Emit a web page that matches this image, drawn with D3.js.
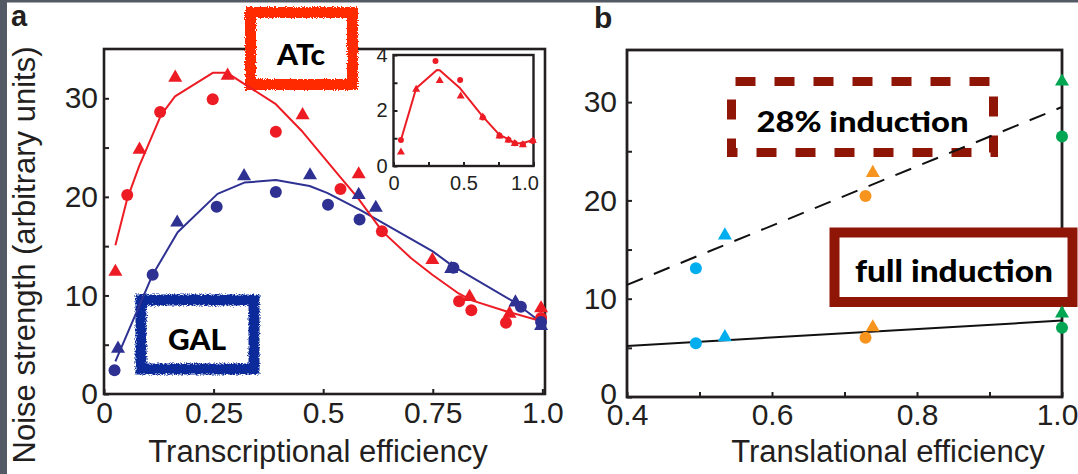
<!DOCTYPE html>
<html>
<head>
<meta charset="utf-8">
<script src="https://cdn.jsdelivr.net/npm/d3@7/dist/d3.min.js"></script>
<style>
  html, body { margin: 0; padding: 0; background: #fff; }
  svg { display: block; }
  text { font-family: "Liberation Sans", Arial, Helvetica, sans-serif; fill: #231f20; }
  .comic { font-family: "Comic Sans MS", Lato, "DejaVu Sans", sans-serif; font-weight: 900; fill: #000; }
</style>
</head>
<body>
<svg id="chart" width="1078" height="474"></svg>
<script>
// ---------------- DATA ----------------
// Panel a (main): Transcriptional efficiency vs noise strength
const atcTriX = [0.026, 0.081, 0.1625, 0.282, 0.453, 0.581, 0.749, 0.834, 0.925, 0.997];
const atcTriY = [12.6, 25.0, 32.3, 32.5, 28.5, 22.5, 13.8, 10.05, 8.36, 8.9];
const atcCirX = [0.053, 0.128, 0.248, 0.392, 0.5395, 0.634, 0.81, 0.838, 0.917, 0.997];
const atcCirY = [20.2, 28.6, 29.9, 26.6, 20.8, 16.5, 9.4, 8.5, 7.24, 7.7];
const atcFitX = [0.026, 0.053, 0.080, 0.130, 0.162, 0.249, 0.280, 0.392, 0.453, 0.539, 0.579, 0.635, 0.700, 0.749, 0.809, 0.839, 0.917, 0.996];
const atcFitY = [15.1, 19.8, 23.1, 28.3, 30.2, 32.6, 32.6, 29.4, 26.6, 22.0, 19.9, 16.5, 13.8, 12.1, 10.2, 9.5, 8.4, 7.4];

const galTriX = [0.032, 0.167, 0.3195, 0.47, 0.581, 0.62, 0.792, 0.9386, 0.997];
const galTriY = [4.8, 17.6, 22.3, 22.4, 20.4, 19.1, 12.9, 9.5, 7.1];
const galCirX = [0.024, 0.111, 0.257, 0.392, 0.511, 0.583, 0.797, 0.951, 0.997];
const galCirY = [2.4, 12.1, 19.0, 20.5, 19.2, 17.7, 12.8, 8.86, 7.3];
const galFitX = [0.026, 0.111, 0.168, 0.259, 0.320, 0.392, 0.469, 0.509, 0.583, 0.749, 0.795, 0.937, 0.996];
const galFitY = [3.3, 12.1, 16.4, 20.3, 21.45, 21.7, 21.1, 20.4, 18.7, 14.5, 13.0, 9.3, 7.3];

const aYTicks = [0, 5, 10, 15, 20, 25, 30];
const aYLabels = ["0", "", "10", "", "20", "", "30"];
const aXTicks = [0, 0.25, 0.5, 0.75, 1.0];
const aXLabels = ["0", "0.25", "0.5", "0.75", "1.0"];

// Panel a inset
const insFitX = [0.053, 0.162, 0.31, 0.33, 0.476, 0.638, 0.757, 0.821, 0.866, 0.924, 0.995];
const insFitY = [0.94, 2.8, 3.46, 3.45, 2.8, 1.78, 1.12, 0.97, 0.82, 0.82, 0.94];
const insTriX = [0.053, 0.162, 0.33, 0.48, 0.638, 0.757, 0.821, 0.866, 0.924, 0.995];
const insTriY = [0.54, 2.8, 3.12, 2.56, 1.8, 1.12, 0.97, 0.85, 0.8, 0.95];
const insCirX = [0.053, 0.30, 0.476, 0.638, 0.757, 0.821, 0.866, 0.924, 0.995];
const insCirY = [0.94, 3.78, 3.1, 1.75, 1.1, 0.95, 0.82, 0.78, 0.9];
const insYTicks = [0, 1, 2, 3, 4];
const insYLabels = ["0", "", "2", "", "4"];
const insXTicks = [0, 0.25, 0.5, 0.75, 1.0];
const insXLabels = ["0", "", "0.5", "", "1.0"];

// Panel b: Translational efficiency
const bGroups = ["cyan", "orange", "green"];
const bCirX = [0.495, 0.729, 1.0];
const bTriX = [0.535, 0.739, 1.0];
const b28CirY = [13.1, 20.45, 26.5];
const b28TriY = [16.65, 23.0, 32.3];
const bFullCirY = [5.46, 6.03, 7.05];
const bFullTriY = [6.3, 7.3, 8.7];
const b28FitX = [0.4, 1.0];
const b28FitY = [11.4, 29.5];
const bFullFitX = [0.4, 1.0];
const bFullFitY = [5.19, 7.77];
const bYTicks = [0, 5, 10, 15, 20, 25, 30];
const bYLabels = ["0", "", "10", "", "20", "", "30"];
const bXTicks = [0.4, 0.5, 0.6, 0.7, 0.8, 0.9, 1.0];
const bXLabels = ["0.4", "", "0.6", "", "0.8", "", "1.0"];

// ---------------- STYLE ----------------
const RED = "#ed1c24", BLUE = "#2e3192";
const groupColor = { cyan: "#00aeef", orange: "#f7941d", green: "#00a651" };
const DARKRED = "#8f1606";
const INK = "#231f20";

const svg = d3.select("#chart");

// filter for hand-drawn boxes
const defs = svg.append("defs");
const f = defs.append("filter").attr("id", "rough").attr("x", "-10%").attr("y", "-10%").attr("width", "120%").attr("height", "120%");
f.append("feTurbulence").attr("type", "fractalNoise").attr("baseFrequency", 0.9).attr("numOctaves", 2).attr("seed", 3).attr("result", "n");
f.append("feDisplacementMap").attr("in", "SourceGraphic").attr("in2", "n").attr("scale", 5)
  .attr("xChannelSelector", "R").attr("yChannelSelector", "G");

// slide border
svg.append("rect").attr("x", 0).attr("y", 0).attr("width", 1078).attr("height", 474).attr("fill", "#fff");
svg.append("rect").attr("x", 0).attr("y", 0).attr("width", 7).attr("height", 474).attr("fill", "#535a65");
svg.append("rect").attr("x", 0).attr("y", 0).attr("width", 1078).attr("height", 2.5).attr("fill", "#535a65");

function triSize(w) { const y = w / (2 * Math.sqrt(3)); return y * y * Math.sqrt(3) * 3; }
function triOffset(w) { return w / (2 * Math.sqrt(3)) / 2; }

function styleAxis(g, labels, fontSize) {
  g.select(".domain").remove();
  g.selectAll(".tick line").attr("stroke", INK).attr("stroke-width", 2);
  g.selectAll(".tick text").attr("fill", INK).style("font-size", fontSize + "px")
    .style("font-family", '"Liberation Sans", Arial, sans-serif');
}

function drawMarkers(g, xs, ys, xS, yS, shape, color, w) {
  const pts = xs.map((x, i) => [x, ys[i]]);
  if (shape === "circle") {
    g.selectAll(null).data(pts).enter().append("circle")
      .attr("cx", d => xS(d[0])).attr("cy", d => yS(d[1])).attr("r", w / 2).attr("fill", color);
  } else {
    const sym = d3.symbol().type(d3.symbolTriangle).size(triSize(w));
    const off = triOffset(w);
    g.selectAll(null).data(pts).enter().append("path")
      .attr("d", sym).attr("fill", color)
      .attr("transform", d => `translate(${xS(d[0])},${yS(d[1]) + off})`);
  }
}
function drawLine(g, xs, ys, xS, yS, color, width, dash) {
  const line = d3.line().x(d => xS(d[0])).y(d => yS(d[1]));
  g.append("path").datum(xs.map((x, i) => [x, ys[i]])).attr("d", line)
    .attr("fill", "none").attr("stroke", color).attr("stroke-width", width)
    .attr("stroke-linejoin", "round").attr("stroke-dasharray", dash || null);
}

// ================= PANEL A =================
const xA = d3.scaleLinear().domain([0, 1.006]).range([104, 545]);
const yA = d3.scaleLinear().domain([0, 35]).range([394, 49]);
const gA = svg.append("g");

gA.append("g").attr("transform", `translate(${xA(0)},0)`)
  .call(d3.axisLeft(yA).tickValues(aYTicks).tickFormat((d, i) => aYLabels[i]).tickSizeInner(-5).tickSizeOuter(0).tickPadding(6))
  .call(g => styleAxis(g, aYLabels, 30));
gA.append("g").attr("transform", `translate(0,${yA(0)})`)
  .call(d3.axisBottom(xA).tickValues(aXTicks).tickFormat((d, i) => aXLabels[i]).tickSizeInner(-5).tickSizeOuter(0).tickPadding(8))
  .call(g => styleAxis(g, aXLabels, 30));
gA.append("rect").attr("x", xA(0)).attr("y", yA(35)).attr("width", xA(1.006) - xA(0)).attr("height", yA(0) - yA(35))
  .attr("fill", "none").attr("stroke", INK).attr("stroke-width", 2.6);

// boxes ATc and GAL
gA.append("rect").attr("x", 250.5).attr("y", 12.5).attr("width", 102).attr("height", 72)
  .attr("fill", "#fff").attr("stroke", "#ff2a00").attr("stroke-width", 11).attr("filter", "url(#rough)");
gA.append("text").attr("class", "comic").attr("x", 301).attr("y", 65).attr("text-anchor", "middle")
  .style("font-size", "28px").attr("textLength", 48).attr("lengthAdjust", "spacingAndGlyphs").text("ATc");
gA.append("rect").attr("x", 141).attr("y", 300).attr("width", 113).attr("height", 69)
  .attr("fill", "#fff").attr("stroke", "#0c2a9a").attr("stroke-width", 11).attr("filter", "url(#rough)");
gA.append("text").attr("class", "comic").attr("x", 197).attr("y", 350).attr("text-anchor", "middle")
  .style("font-size", "28px").attr("textLength", 58).attr("lengthAdjust", "spacingAndGlyphs").text("GAL");

// fits and markers
drawLine(gA, galFitX, galFitY, xA, yA, BLUE, 2);
drawLine(gA, atcFitX, atcFitY, xA, yA, RED, 2);
drawMarkers(gA, atcCirX, atcCirY, xA, yA, "circle", RED, 12);
drawMarkers(gA, atcTriX, atcTriY, xA, yA, "triangle", RED, 14);
drawMarkers(gA, galCirX, galCirY, xA, yA, "circle", BLUE, 12);
drawMarkers(gA, galTriX, galTriY, xA, yA, "triangle", BLUE, 14);

// axis titles
svg.append("text").attr("x", 318).attr("y", 462).attr("text-anchor", "middle").style("font-size", "31px")
  .text("Transcriptional efficiency");
svg.append("text").attr("transform", "translate(35,255) rotate(-90)").attr("text-anchor", "middle").style("font-size", "31px")
  .text("Noise strength (arbitrary units)");
svg.append("text").attr("x", 11).attr("y", 26).style("font-size", "29px").style("font-weight", "bold").attr("fill", INK).text("a");

// inset
const xI = d3.scaleLinear().domain([0, 1]).range([393.5, 533.5]);
const yI = d3.scaleLinear().domain([0, 4]).range([166, 55]);
const gI = svg.append("g");
gI.append("rect").attr("x", xI(0)).attr("y", yI(4)).attr("width", xI(1) - xI(0)).attr("height", yI(0) - yI(4)).attr("fill", "#fff");
gI.append("g").attr("transform", `translate(${xI(0)},0)`)
  .call(d3.axisLeft(yI).tickValues(insYTicks).tickFormat((d, i) => insYLabels[i]).tickSizeInner(-4).tickSizeOuter(0).tickPadding(6))
  .call(g => styleAxis(g, insYLabels, 20));
gI.append("g").attr("transform", `translate(0,${yI(0)})`)
  .call(d3.axisBottom(xI).tickValues(insXTicks).tickFormat((d, i) => insXLabels[i]).tickSizeInner(-4).tickSizeOuter(0).tickPadding(10))
  .call(g => styleAxis(g, insXLabels, 20))
  .call(g => g.selectAll(".tick text").filter((d, i) => i === insXTicks.length - 1).attr("dx", -9));
gI.append("rect").attr("x", xI(0)).attr("y", yI(4)).attr("width", xI(1) - xI(0)).attr("height", yI(0) - yI(4))
  .attr("fill", "none").attr("stroke", INK).attr("stroke-width", 2.4);
drawLine(gI, insFitX, insFitY, xI, yI, RED, 2);
drawMarkers(gI, insCirX, insCirY, xI, yI, "circle", RED, 6);
drawMarkers(gI, insTriX, insTriY, xI, yI, "triangle", RED, 8);

// ================= PANEL B =================
const xB = d3.scaleLinear().domain([0.4, 1.0]).range([627, 1062]);
const yB = d3.scaleLinear().domain([0, 35.3]).range([397, 50]);
const gB = svg.append("g");
gB.append("g").attr("transform", `translate(${xB(0.4)},0)`)
  .call(d3.axisLeft(yB).tickValues(bYTicks).tickFormat((d, i) => bYLabels[i]).tickSizeInner(-5).tickSizeOuter(0).tickPadding(10))
  .call(g => styleAxis(g, bYLabels, 30))
  .call(g => g.selectAll(".tick text").filter((d, i) => i === 0).attr("dy", "0.2em"));
gB.append("g").attr("transform", `translate(0,${yB(0)})`)
  .call(d3.axisBottom(xB).tickValues(bXTicks).tickFormat((d, i) => bXLabels[i]).tickSizeInner(-5).tickSizeOuter(0).tickPadding(7))
  .call(g => styleAxis(g, bXLabels, 30))
  .call(g => g.selectAll(".tick text").filter((d, i) => i === bXTicks.length - 1).attr("dx", -5));
gB.append("rect").attr("x", xB(0.4)).attr("y", yB(35.3)).attr("width", xB(1.0) - xB(0.4)).attr("height", yB(0) - yB(35.3))
  .attr("fill", "none").attr("stroke", INK).attr("stroke-width", 2.8);

// "full induction" box (white filled, covers axis)
gB.append("rect").attr("x", 834.5).attr("y", 232.5).attr("width", 238).attr("height", 69.5)
  .attr("fill", "#fff").attr("stroke", DARKRED).attr("stroke-width", 10);
gB.append("text").attr("class", "comic").attr("x", 954).attr("y", 281.5).attr("text-anchor", "middle")
  .style("font-size", "30px").attr("textLength", 198).attr("lengthAdjust", "spacingAndGlyphs").text("full induction");

// "28% induction" dashed box
gB.append("rect").attr("x", 731.5).attr("y", 81.5).attr("width", 262).attr("height", 71)
  .attr("fill", "none").attr("stroke", DARKRED).attr("stroke-width", 9).attr("stroke-dasharray", "20,19")
  .attr("stroke-dashoffset", -4);
gB.append("text").attr("class", "comic").attr("x", 862.5).attr("y", 131.5).attr("text-anchor", "middle")
  .style("font-size", "29px").attr("textLength", 212).attr("lengthAdjust", "spacingAndGlyphs").text("28% induction");

// fits
drawLine(gB, b28FitX, b28FitY, xB, yB, "#111", 2, "17,12");
drawLine(gB, bFullFitX, bFullFitY, xB, yB, "#111", 2);

// markers
bGroups.forEach((grp, i) => {
  const c = groupColor[grp];
  drawMarkers(gB, [bCirX[i]], [b28CirY[i]], xB, yB, "circle", c, 12);
  drawMarkers(gB, [bTriX[i]], [b28TriY[i]], xB, yB, "triangle", c, 14);
  drawMarkers(gB, [bCirX[i]], [bFullCirY[i]], xB, yB, "circle", c, 12);
  drawMarkers(gB, [bTriX[i]], [bFullTriY[i]], xB, yB, "triangle", c, 14);
});

svg.append("text").attr("x", 888).attr("y", 462).attr("text-anchor", "middle").style("font-size", "31px")
  .text("Translational efficiency");
svg.append("text").attr("x", 594).attr("y", 28).style("font-size", "30px").style("font-weight", "bold").attr("fill", INK).text("b");
</script>
</body>
</html>
